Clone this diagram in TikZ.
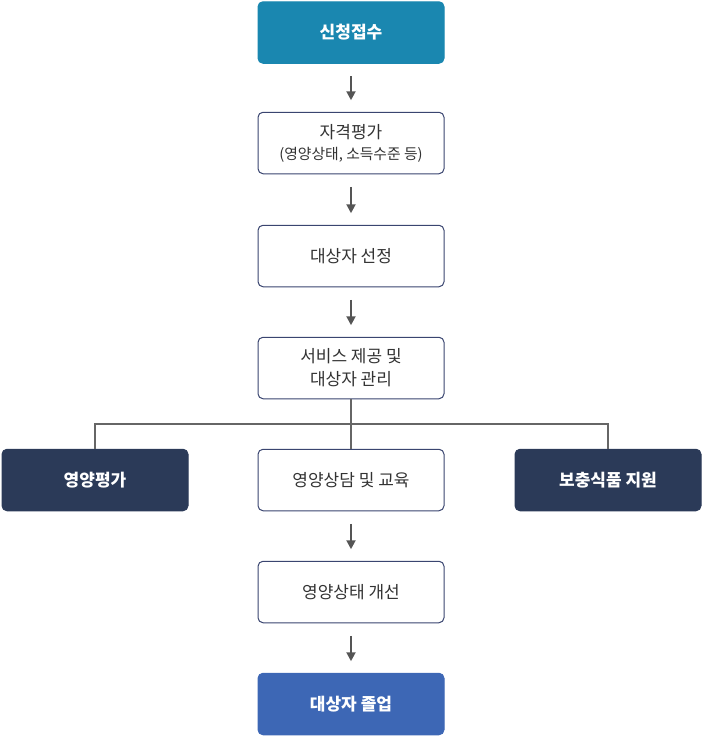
\documentclass[tikz,border=0pt]{standalone}
\usepackage{fontspec}
\setmainfont{Noto Sans CJK KR}
\usetikzlibrary{positioning,calc,arrows.meta}
\definecolor{applyteal}{HTML}{1A87B0}
\definecolor{navybox}{HTML}{2B3A58}
\definecolor{endblue}{HTML}{3D67B5}
\definecolor{edgenavy}{HTML}{3A4570}
\definecolor{arrowgray}{HTML}{555555}
\definecolor{textgray}{HTML}{333333}
\tikzset{
  every picture/.style={
    >={Triangle[width=9pt, length=9pt]}
  },
  stepbox/.style={
    draw=edgenavy, line width=1pt, fill=white, rounded corners=5pt,
    minimum width=186pt, minimum height=61.5pt, align=center,
    outer sep=0pt, inner sep=2pt,
    text=textgray, font=\fontsize{17}{24}\selectfont
  },
  filledbox/.style={
    stepbox, draw=#1, fill=#1, text=white,
    font=\fontsize{17}{24}\selectfont\bfseries
  },
  flow/.style={
    ->, draw=arrowgray, line width=2pt,
    shorten <=13pt, shorten >=12pt
  },
  branch/.style={
    draw=arrowgray!90, line width=2.5pt
  }
}
\begin{document}
\begin{tikzpicture}
      \useasboundingbox (0pt,0pt) rectangle (702pt,-736pt);
      \node[filledbox=applyteal] (apply) at (351pt,-32.5pt) {신청접수};
      \node[stepbox, below=49pt of apply] (qualify) {자격평가\\[-3pt]{\fontsize{14.8}{18}\selectfont (영양상태, 소득수준 등)}};
      \node[stepbox, below=51.5pt of qualify] (select) {대상자 선정};
      \node[stepbox, below=50.5pt of select] (care) {서비스 제공 및\\[-1pt]대상자 관리};
      \node[stepbox, below=50.5pt of care] (counsel) {영양상담 및 교육};
      \node[filledbox=navybox, left=70pt of counsel] (assess) {영양평가};
      \node[filledbox=navybox, right=71pt of counsel] (food) {보충식품 지원};
      \node[stepbox, below=50.5pt of counsel] (improve) {영양상태 개선};
      \node[filledbox=endblue, below=50.5pt of improve] (graduate) {대상자 졸업};
      % arrows between steps
      \draw[flow] (apply) -- (qualify);
      \draw[flow] (qualify) -- (select);
      \draw[flow] (select) -- (care);
      \draw[flow] (counsel) -- (improve);
      \draw[flow] (improve) -- (graduate);
      % three-way split
      \coordinate (fork) at ($(care.south)!0.5!(counsel.north)$);
      \draw[branch] (care.south) -- (counsel.north);
      \draw[branch] (assess.north) |- (fork) -| (food.north);
\end{tikzpicture}
\end{document}
